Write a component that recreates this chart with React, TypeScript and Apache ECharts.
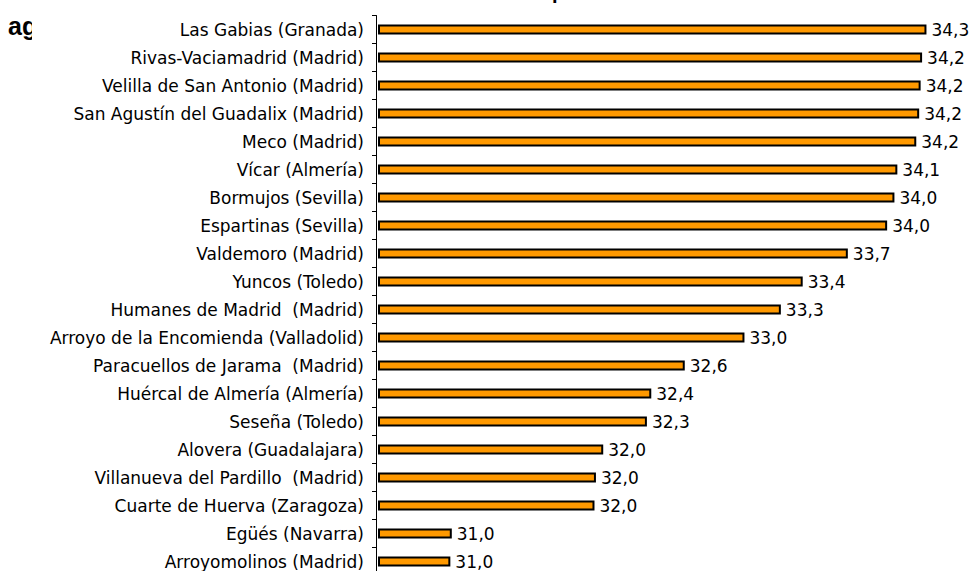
import React, { useEffect, useRef } from "react";
import * as echarts from "echarts";

const categories: string[] = [
  "Las Gabias (Granada)",
  "Rivas-Vaciamadrid (Madrid)",
  "Velilla de San Antonio (Madrid)",
  "San Agustín del Guadalix (Madrid)",
  "Meco (Madrid)",
  "Vícar (Almería)",
  "Bormujos (Sevilla)",
  "Espartinas (Sevilla)",
  "Valdemoro (Madrid)",
  "Yuncos (Toledo)",
  "Humanes de Madrid  (Madrid)",
  "Arroyo de la Encomienda (Valladolid)",
  "Paracuellos de Jarama  (Madrid)",
  "Huércal de Almería (Almería)",
  "Seseña (Toledo)",
  "Alovera (Guadalajara)",
  "Villanueva del Pardillo  (Madrid)",
  "Cuarte de Huerva (Zaragoza)",
  "Egüés (Navarra)",
  "Arroyomolinos (Madrid)",
];

const values: number[] = [
  34.26, 34.23, 34.22, 34.21, 34.19, 34.06, 34.04, 33.99, 33.72, 33.41,
  33.26, 33.01, 32.6, 32.37, 32.34, 32.04, 31.99, 31.98, 31.0, 30.99,
];

const axisMin = 30.5;
const axisMax = 34.5;

const FONT = "DejaVu Sans";

export default function App() {
  const ref = useRef<HTMLDivElement>(null);
  useEffect(() => {
    if (!ref.current) return;
    const chart = echarts.init(ref.current, null, { renderer: "svg" });
    chart.setOption({
      animation: false,
      backgroundColor: "#ffffff",
      grid: { left: 379, width: 582.4, top: 15.5, height: 560, containLabel: false },
      xAxis: {
        type: "value",
        min: axisMin,
        max: axisMax,
        show: false,
        splitLine: { show: false },
      },
      yAxis: {
        type: "category",
        inverse: true,
        data: categories,
        offset: 3,
        axisLine: { show: true, lineStyle: { color: "#000", width: 1 } },
        axisTick: { show: true, length: 4, lineStyle: { color: "#000", width: 1 } },
        axisLabel: {
          margin: 12,
          color: "#000",
          fontFamily: FONT,
          fontSize: 17,
          padding: [3, 0, 0, 0],
        },
        splitLine: { show: false },
      },
      series: [
        {
          type: "bar",
          data: values,
          barWidth: 10,
          itemStyle: { color: "#FF9900", borderColor: "#000", borderWidth: 2 },
          label: {
            show: true,
            position: "right",
            distance: 5,
            color: "#000",
            fontFamily: FONT,
            fontSize: 17,
            padding: [3, 0, 0, 0],
            formatter: (p: any) => Number(p.value).toFixed(1).replace(".", ","),
          },
        },
      ],
      graphic: [
        {
          type: "text",
          left: 8,
          top: 13,
          style: {
            text: "ag",
            fontFamily: "Liberation Sans",
            fontWeight: "bold",
            fontSize: 25,
            fill: "#000",
          },
          z: 10,
        },
        {
          type: "rect",
          shape: { x: 32, y: 8, width: 14, height: 34 },
          style: { fill: "#fff" },
          z: 11,
        },
        {
          type: "text",
          x: 552,
          y: -8,
          style: {
            text: "p",
            fontFamily: "Liberation Sans",
            fontWeight: "bold",
            fontSize: 20,
            fill: "#000",
            verticalAlign: "middle",
          },
          z: 10,
        },
      ],
    });
    return () => chart.dispose();
  }, []);
  return (
    <div
      ref={ref}
      style={{ position: "fixed", left: 0, top: 0, width: 969, height: 600, background: "#fff" }}
    />
  );
}
